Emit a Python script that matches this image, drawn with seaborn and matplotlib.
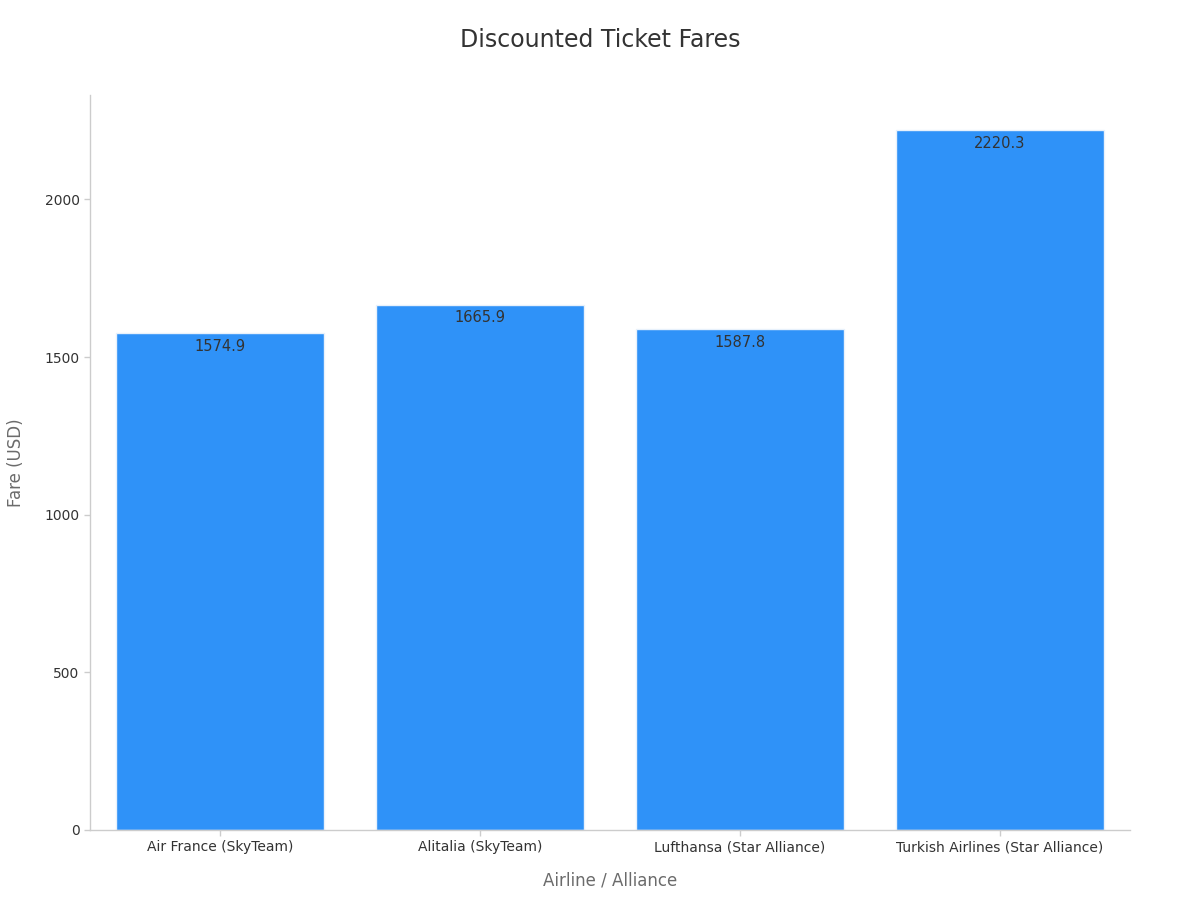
import matplotlib
matplotlib.use("Agg")
import matplotlib.pyplot as plt
import seaborn as sns
import pandas as pd

airlines = ["Air France (SkyTeam)", "Alitalia (SkyTeam)",
            "Lufthansa (Star Alliance)", "Turkish Airlines (Star Alliance)"]
fares = [1574.9, 1665.9, 1587.8, 2220.3]

BAR_COLOR = "#2f92f8"
TEXT_COLOR = "#333333"
LABEL_COLOR = "#6b6b6b"
SPINE_COLOR = "#cccccc"

sns.set_theme(style="white")
plt.rcParams["font.family"] = ["DejaVu Sans"]

df = pd.DataFrame({"airline": airlines, "fare": fares})

fig = plt.figure(figsize=(12, 9), dpi=100)
ax = fig.add_axes([0.075, 0.0778, 0.8667, 0.8166])

sns.barplot(data=df, x="airline", y="fare", color=BAR_COLOR, saturation=1,
            width=0.8, edgecolor="#e8f1fb", linewidth=1, ax=ax)

# value labels just inside the top of each bar
for patch, val in zip(ax.patches, fares):
    ax.annotate(f"{val:.1f}", (patch.get_x() + patch.get_width() / 2, val),
                xytext=(0, -4), textcoords="offset points",
                ha="center", va="top", fontsize=10.5, color=TEXT_COLOR)

ax.set_xlim(-0.5, 3.5)
ax.set_ylim(0, max(fares) * 1.05)
ax.set_yticks([0, 500, 1000, 1500, 2000])

fig.text(0.5, 1 - 40 / 900, "Discounted Ticket Fares", fontsize=17,
         color=TEXT_COLOR, ha="center", va="center")
ax.set_xlabel("Airline / Alliance", fontsize=12, color=LABEL_COLOR, labelpad=12)
ax.set_ylabel("Fare (USD)", fontsize=12, color=LABEL_COLOR, labelpad=14)

ax.tick_params(axis="both", labelsize=10, colors=SPINE_COLOR,
               length=4, width=1, left=True, bottom=True)
for lbl in ax.get_xticklabels() + ax.get_yticklabels():
    lbl.set_color(TEXT_COLOR)

sns.despine(ax=ax)
for side in ("left", "bottom"):
    ax.spines[side].set_color(SPINE_COLOR)
    ax.spines[side].set_linewidth(1)

fig.savefig("out.png", dpi=100)
plt.close(fig)
